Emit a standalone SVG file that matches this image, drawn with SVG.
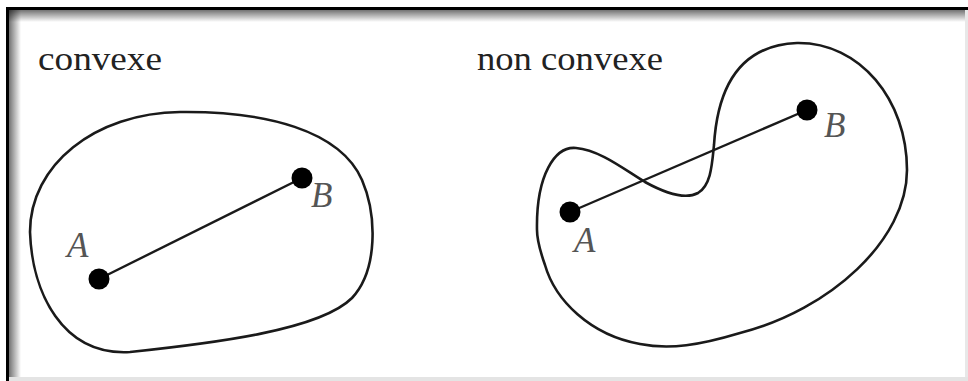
<svg xmlns="http://www.w3.org/2000/svg" width="968" height="381" viewBox="0 0 968 381">
<defs>
<linearGradient id="gTop" x1="0" y1="0" x2="0" y2="1"><stop offset="0" stop-color="#000" stop-opacity="0.55"/><stop offset="1" stop-color="#000" stop-opacity="0"/></linearGradient>
<linearGradient id="gLeft" x1="0" y1="0" x2="1" y2="0"><stop offset="0" stop-color="#000" stop-opacity="0.55"/><stop offset="1" stop-color="#000" stop-opacity="0"/></linearGradient>
<style>
.curve{fill:none;stroke:#1a1a1a;stroke-width:2.6}
.seg{stroke:#1a1a1a;stroke-width:2.4}
.dot{fill:#000}
.title{font-family:"Liberation Serif","Times New Roman",serif;font-size:34px;fill:#222}
.pt{font-family:"Liberation Serif","Times New Roman",serif;font-style:italic;font-size:35px;fill:#555}
</style>
</defs>
<rect width="968" height="381" fill="#fff"/>
<g id="frame">
<rect x="9" y="10" width="959" height="12" fill="url(#gTop)"/>
<rect x="9" y="10" width="12" height="371" fill="url(#gLeft)"/>
<rect x="6" y="7" width="962" height="3" fill="#000"/>
<rect x="6" y="7" width="3" height="374" fill="#000"/>
<rect x="965" y="10" width="3" height="371" fill="#e8e8e8"/>
<rect x="9" y="377" width="959" height="4" fill="#e4e4e4"/>
</g>
<g id="convexe">
<text class="title" x="38" y="70" textLength="124" lengthAdjust="spacingAndGlyphs">convexe</text>
<path class="curve" d="M 30,232 C 30,165 95,113 180,112 C 265,111 340,130 362,180 C 377,215 378,270 352,298 C 320,330 215,343 130,352 C 62,356 32,292 30,232 Z"/>
</g>
<g id="non-convexe">
<text class="title" x="477" y="70" textLength="186" lengthAdjust="spacingAndGlyphs">non convexe</text>
<path class="curve" d="M 537,230 C 536,175 555,146 576,148 C 600,150 625,170 645,182 C 665,193 685,200 698,193 C 711,185 712,165 714,145 C 718,80 745,45 797,43 C 860,42 907,100 907,170 C 907,240 830,310 740,333 C 700,345 670,350 640,344 C 590,335 555,300 545,265 C 539,248 537,240 537,230 Z"/>
</g>
<g id="connectors">
<line class="seg" x1="99" y1="279" x2="302" y2="178"/>
<line class="seg" x1="570" y1="212" x2="807" y2="110"/>
</g>
<g id="A1"><circle class="dot" cx="99" cy="279" r="10.5"/><text class="pt" x="67" y="257">A</text></g>
<g id="B1"><circle class="dot" cx="302" cy="178" r="10.5"/><text class="pt" x="311" y="207">B</text></g>
<g id="A2"><circle class="dot" cx="570" cy="212" r="10.5"/><text class="pt" x="574" y="252">A</text></g>
<g id="B2"><circle class="dot" cx="807" cy="110" r="10.5"/><text class="pt" x="824" y="137">B</text></g>
</svg>
